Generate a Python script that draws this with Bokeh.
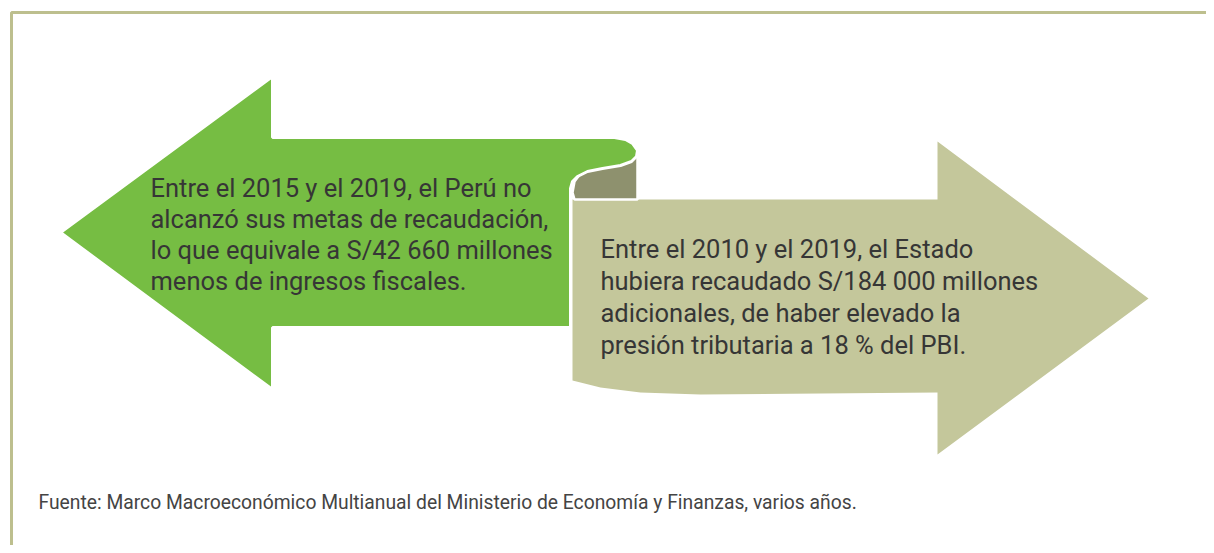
from bokeh.plotting import figure
from bokeh.models import Range1d
from bokeh.core.properties import value
from bokeh.embed import file_html
from bokeh.resources import INLINE

# ---- content ----
left_lines = [
    "Entre el 2015 y el 2019, el Perú no",
    "alcanzó sus metas de recaudación,",
    "lo que equivale a S/42 660 millones",
    "menos de ingresos fiscales.",
]
right_lines = [
    "Entre el 2010 y el 2019, el Estado",
    "hubiera recaudado S/184 000 millones",
    "adicionales, de haber elevado la",
    "presión tributaria a 18 % del PBI.",
]
source_note = "Fuente: Marco Macroeconómico Multianual del Ministerio de Economía y Finanzas, varios años."

# ---- shape outlines (page pixel geometry) ----
green_x = [60, 272, 272, 614, 625, 632, 637, 636, 631, 620, 602, 587, 577, 572, 570, 570, 272, 272]
green_y = [232, 76, 137, 137, 139, 143, 150, 156, 161, 165, 168, 171, 176, 181, 188, 327, 327, 389]
olive_x = [637, 637, 574, 572, 574, 580, 592, 610, 628, 637]
olive_y = [150, 199, 199, 192, 181, 173, 168, 166, 162, 150]
beige_x = [572, 937, 937, 1148, 937, 937, 820, 700, 640, 600, 572]
beige_y = [199, 199, 141, 298, 454, 392, 393, 394, 392, 387, 380]

GREEN = "#76bd43"
OLIVE = "#8e916e"
BEIGE = "#c4c79b"
FRAME = "#bdbf8e"
TXT = "#363636"

p = figure(width=1206, height=545, output_backend="svg", toolbar_location=None,
           x_range=Range1d(0, 1206), y_range=Range1d(545, 0),
           min_border=0, outline_line_color=None, background_fill_color="white",
           border_fill_color="white")
p.axis.visible = False
p.grid.visible = False

# frame
p.line([11, 11, 1214], [560, 12, 12], line_color=FRAME, line_width=3)

p.patch(beige_x, beige_y, fill_color=BEIGE, line_color=None)
p.patch(olive_x, olive_y, fill_color=OLIVE, line_color="white", line_width=2.5)
p.patch(green_x, green_y, fill_color=GREEN, line_color="white", line_width=3)

font = value("Roboto")
p.text(x=[150] * len(left_lines), y=[187 + 31 * i for i in range(len(left_lines))],
       text=left_lines, text_font=font, text_font_size="25.5px", text_color=TXT,
       text_baseline="middle", text_align="left")
p.text(x=[600] * len(right_lines), y=[248 + 32 * i for i in range(len(right_lines))],
       text=right_lines, text_font=font, text_font_size="25.5px", text_color=TXT,
       text_baseline="middle", text_align="left")
p.text(x=[38], y=[502], text=[source_note], text_font=font, text_font_size="19.3px",
       text_color="#444444", text_baseline="middle", text_align="left")

open("out.html", "w").write(file_html(p, INLINE))
